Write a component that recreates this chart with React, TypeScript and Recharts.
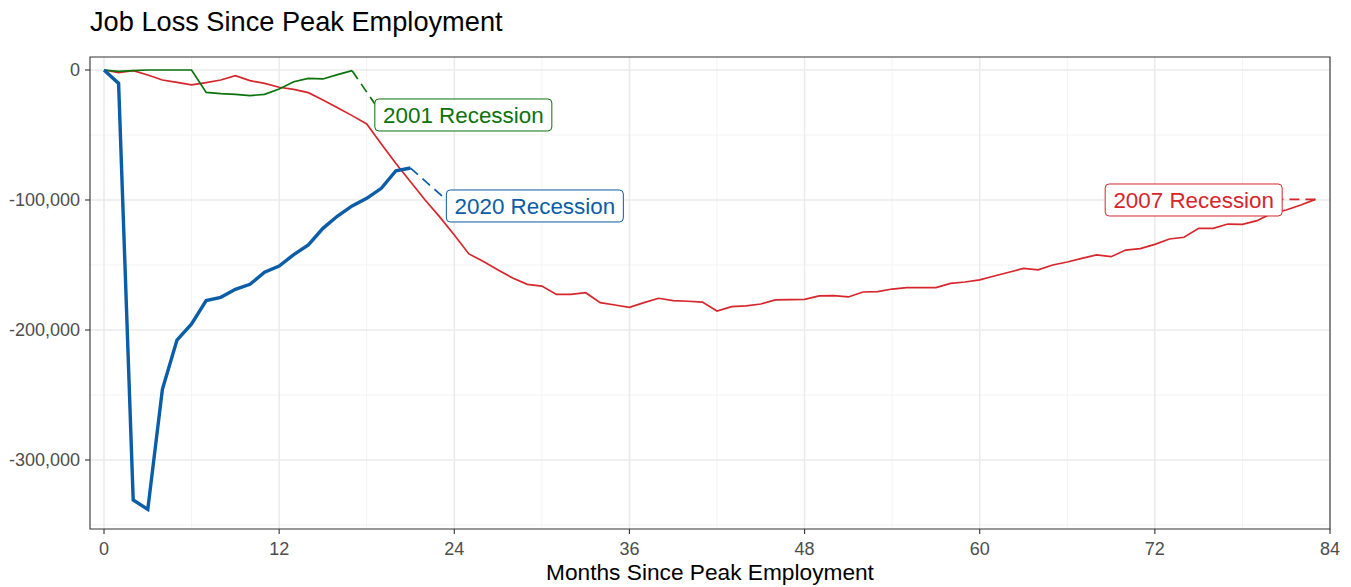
import React from 'react';
import {
  LineChart,
  Line,
  XAxis,
  YAxis,
  CartesianGrid,
  ReferenceLine,
  ReferenceDot,
  ReferenceArea,
} from 'recharts';

const FONT = '"Liberation Sans", Arial, Helvetica, sans-serif';

const GREEN = '#0b720b';
const RED = '#d7262b';
const BLUE = '#0a5da6';

// Months since peak employment and job loss for each recession
const months2001 = [0, 1, 2, 3, 4, 5, 6, 7, 8, 9, 10, 11, 12, 13, 14, 15, 16, 17];
const jobs2001 = [
  0, -1000, -500, 0, 0, 0, 0, -17200, -18200, -18700, -19700, -18700, -14600, -9000, -6400, -6900,
  -3600, -500,
];

const months2007 = [
  0, 1, 2, 3, 4, 5, 6, 7, 8, 9, 10, 11, 12, 13, 14, 15, 16, 17, 18, 19, 20, 21, 22, 23, 24, 25, 26,
  27, 28, 29, 30, 31, 32, 33, 34, 35, 36, 37, 38, 39, 40, 41, 42, 43, 44, 45, 46, 47, 48, 49, 50, 51,
  52, 53, 54, 55, 56, 57, 58, 59, 60, 61, 62, 63, 64, 65, 66, 67, 68, 69, 70, 71, 72, 73, 74, 75, 76,
  77, 78, 79, 80, 81, 82, 83,
];
const jobs2007 = [
  0, -2000, -500, -3800, -7700, -9500, -11500, -9700, -7700, -4400, -8200, -10300, -13300, -14900,
  -17400, -23000, -29000, -35100, -41500, -57000, -72000, -86000, -100000, -113000, -127000, -141500,
  -147400, -153800, -160000, -164900, -166200, -172600, -172600, -171300, -179000, -180800, -182600,
  -179000, -175600, -177400, -177900, -178500, -185400, -182000, -181500, -180000, -176900, -176700,
  -176400, -173800, -173600, -174600, -170800, -170500, -168500, -167400, -167400, -167400, -164100,
  -163100, -161500, -158500, -155600, -152600, -153800, -150000, -147700, -144900, -142300, -143600,
  -138500, -137400, -134100, -130000, -128700, -121800, -121800, -118500, -118700, -115900, -110300,
  -107700, -103800, -99500,
];

const months2020 = [0, 1, 2, 3, 4, 5, 6, 7, 8, 9, 10, 11, 12, 13, 14, 15, 16, 17, 18, 19, 20, 21];
const jobs2020 = [
  0, -10300, -330800, -338000, -245600, -207700, -195400, -177400, -174900, -168700, -164900,
  -155600, -150800, -142000, -134600, -121800, -112300, -104600, -98700, -91000, -77500, -75400,
];

const xTicks = [0, 12, 24, 36, 48, 60, 72, 84];
const xMinor = [6, 18, 30, 42, 54, 66, 78];
const yTicks = [-300000, -200000, -100000, 0];
const yMinor = [-350000, -250000, -150000, -50000];

const xDomain: [number, number] = [-0.96, 84];
const yDomain: [number, number] = [-353100, 10000];

const toPoints = (m: number[], v: number[]) => m.map((month, i) => ({ month, jobs: v[i] }));

const data2001 = toPoints(months2001, jobs2001);
const data2007 = toPoints(months2007, jobs2007);
const data2020 = toPoints(months2020, jobs2020);

// Repelled labels: label centre, and dashed connector from series end to label edge
const annotations = [
  {
    text: '2001 Recession',
    color: GREEN,
    cx: 24.62,
    cy: -34600,
    from: { x: 17, y: -500 },
    to: { x: 18.56, y: -26200 },
  },
  {
    text: '2020 Recession',
    color: BLUE,
    cx: 29.52,
    cy: -104600,
    from: { x: 21, y: -75400 },
    to: { x: 23.47, y: -100000 },
  },
  {
    text: '2007 Recession',
    color: RED,
    cx: 74.66,
    cy: -100000,
    from: { x: 83, y: -99500 },
    to: { x: 80.68, y: -99500 },
  },
];

const fmt = (v: number) => v.toLocaleString('en-US');

const makeLabelShape = (text: string, color: string) => (p: any) => {
  const cx = p.cx;
  const cy = p.cy;
  const w = 177;
  const h = 32;
  return (
    <g>
      <rect
        x={cx - w / 2}
        y={cy - h / 2}
        width={w}
        height={h}
        rx={4}
        ry={4}
        fill="#ffffff"
        stroke={color}
        strokeWidth={1}
      />
      <text
        x={cx}
        y={cy}
        dy="0.36em"
        textAnchor="middle"
        fill={color}
        fontSize={22.4}
        fontFamily={FONT}
      >
        {text}
      </text>
    </g>
  );
};

export default function App() {
  return (
    <div
      style={{
        position: 'absolute',
        left: 0,
        top: 0,
        width: 1351,
        height: 587,
        background: '#ffffff',
        fontFamily: FONT,
      }}
    >
      <div
        style={{
          position: 'absolute',
          left: 90,
          top: 8,
          fontSize: 27.2,
          lineHeight: '27px',
          color: '#000000',
          whiteSpace: 'nowrap',
        }}
      >
        Job Loss Since Peak Employment
      </div>
      <LineChart
        width={1351}
        height={587}
        margin={{ top: 57, right: 21, bottom: 0, left: 0 }}
        style={{ position: 'absolute', left: 0, top: 0 }}
      >
        <CartesianGrid
          stroke="#f3f3f3"
          strokeWidth={1}
          verticalValues={xMinor}
          horizontalValues={yMinor}
        />
        <CartesianGrid
          stroke="#ebebeb"
          strokeWidth={1.6}
          verticalValues={xTicks}
          horizontalValues={yTicks}
        />
        <XAxis
          dataKey="month"
          type="number"
          domain={xDomain}
          allowDataOverflow
          ticks={xTicks}
          interval={0}
          height={58}
          axisLine={false}
          tickLine={{ stroke: '#333333', strokeWidth: 1.1 }}
          tickSize={5}
          tickMargin={8}
          tick={{ fill: '#4d4d4d', fontSize: 18, fontFamily: FONT }}
        />
        <YAxis
          type="number"
          domain={yDomain}
          allowDataOverflow
          ticks={yTicks}
          interval={0}
          width={90}
          axisLine={false}
          tickLine={{ stroke: '#333333', strokeWidth: 1.1 }}
          tickSize={5}
          tickMargin={5}
          tickFormatter={fmt}
          tick={{ fill: '#4d4d4d', fontSize: 18, fontFamily: FONT }}
        />
        <Line
          data={data2007}
          dataKey="jobs"
          type="linear"
          stroke={RED}
          strokeWidth={1.7}
          dot={false}
          activeDot={false}
          isAnimationActive={false}
        />
        <Line
          data={data2001}
          dataKey="jobs"
          type="linear"
          stroke={GREEN}
          strokeWidth={1.7}
          dot={false}
          activeDot={false}
          isAnimationActive={false}
        />
        <Line
          data={data2020}
          dataKey="jobs"
          type="linear"
          stroke={BLUE}
          strokeWidth={3.4}
          dot={false}
          activeDot={false}
          isAnimationActive={false}
        />
        {annotations.map((a) => (
          <ReferenceLine
            key={a.text + '-seg'}
            segment={[a.from, a.to]}
            stroke={a.color}
            strokeWidth={1.7}
            strokeDasharray="10 6"
            ifOverflow="visible"
          />
        ))}
        {annotations.map((a) => (
          <ReferenceDot
            key={a.text}
            x={a.cx}
            y={a.cy}
            r={1}
            ifOverflow="visible"
            shape={makeLabelShape(a.text, a.color)}
          />
        ))}
        <ReferenceArea
          x1={xDomain[0]}
          x2={xDomain[1]}
          y1={yDomain[0]}
          y2={yDomain[1]}
          fill="none"
          fillOpacity={0}
          stroke="#333333"
          strokeWidth={1.1}
          ifOverflow="visible"
        />
      </LineChart>
      <div
        style={{
          position: 'absolute',
          left: 90,
          width: 1240,
          top: 561,
          textAlign: 'center',
          fontSize: 22.7,
          lineHeight: '22px',
          color: '#000000',
          whiteSpace: 'nowrap',
        }}
      >
        Months Since Peak Employment
      </div>
    </div>
  );
}
